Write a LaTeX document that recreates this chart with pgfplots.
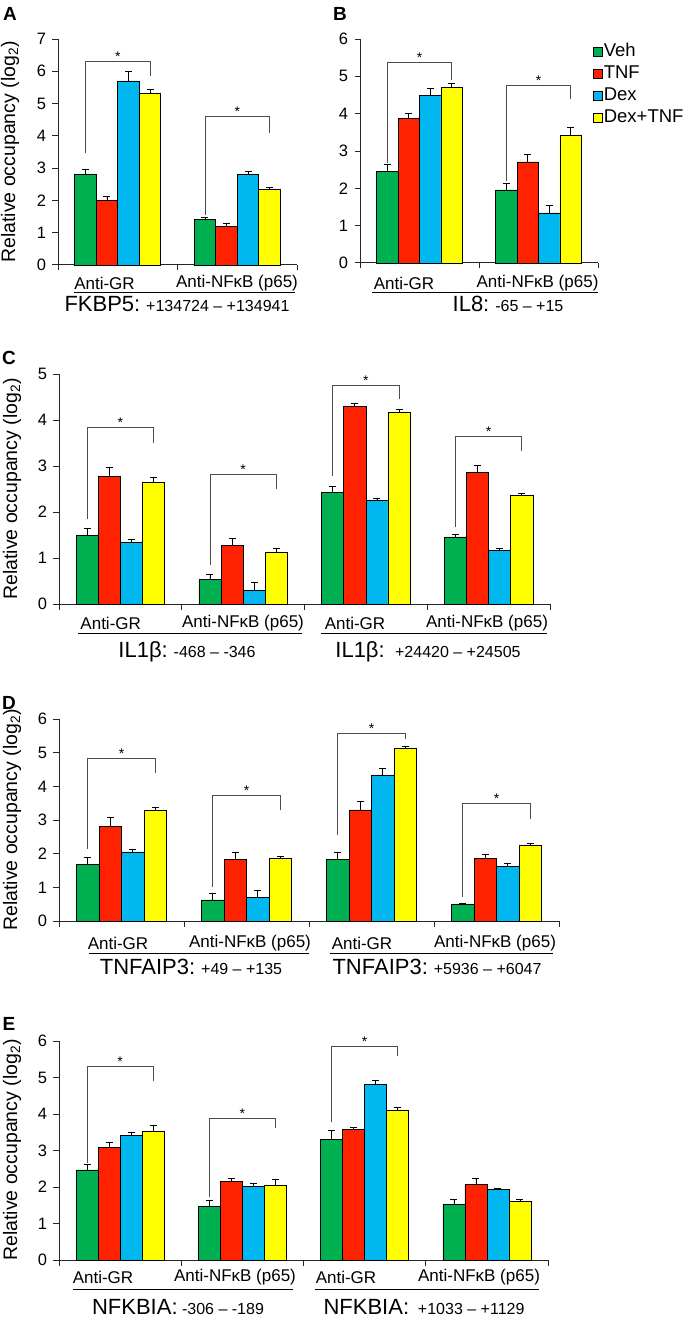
\documentclass[border=0pt]{standalone}
\usepackage{fontspec}
\setmainfont{Liberation Sans}
\usepackage{tikz}
\usepackage{pgfplots}
\pgfplotsset{compat=1.18}

\definecolor{cveh}{RGB}{0,176,80}
\definecolor{ctnf}{RGB}{255,34,0}
\definecolor{cdex}{RGB}{0,183,239}
\definecolor{cdt}{RGB}{255,255,0}

\newcommand{\fs}[1]{\fontsize{#1}{#1}\selectfont}
\tikzset{brk/.style={line width=0.8pt, black!70}}
% significance bracket: x left, x mid, x right, left foot, top, right foot
\newcommand{\sig}[6]{%
  \draw[brk] (axis cs:#1,#4) |- (axis cs:#3,#5) -- (axis cs:#3,#6);
  \node[font=\fs{14}, anchor=base, inner sep=0pt] at (axis cs:#2,#5) {*};}

\pgfplotsset{
  chip/.style={
    scale only axis, anchor=south west,
    xmin=0, ymin=0,
    axis x line*=bottom, axis y line*=left,
    axis line style={-, line width=1pt, black!85},
    ytick distance=1, xtick distance=1,
    xticklabels={},
    tick align=outside,
    major tick length=5.5pt,
    tick style={line width=1pt, black!85},
    yticklabel style={font=\fs{16.5}, xshift=-3pt},
    /pgf/number format/assume math mode=true,
    ybar=0pt, bar width=0.18,
    clip=false,
  },
  vb/.style={fill=#1, draw=black, line width=0.6pt,
    error bars/.cd, y dir=plus, y explicit,
    error bar style={line width=0.7pt, black},
    error mark options={rotate=90, mark size=3.5pt, line width=0.7pt, black}},
}

\begin{document}
\begin{tikzpicture}
\useasboundingbox (0pt,0pt) rectangle (693pt,-1321pt);

% ---------------- A: FKBP5
\begin{axis}[chip, at={(58pt,-265pt)}, width=239pt, height=226pt, xmax=2, ymax=7]
\addplot[vb=cveh] coordinates {(0.5,2.80) +- (0,0.17) (1.5,1.40) +- (0,0.07)};
\addplot[vb=ctnf] coordinates {(0.5,2.00) +- (0,0.13) (1.5,1.20) +- (0,0.10)};
\addplot[vb=cdex] coordinates {(0.5,5.70) +- (0,0.30) (1.5,2.81) +- (0,0.10)};
\addplot[vb=cdt]  coordinates {(0.5,5.31) +- (0,0.12) (1.5,2.34) +- (0,0.07)};
\sig{0.23}{0.5}{0.77}{3.46}{6.31}{5.84}
\sig{1.23}{1.5}{1.77}{1.55}{4.60}{4.10}
\end{axis}

% ---------------- B: IL8
\begin{axis}[chip, at={(360pt,-263pt)}, width=238pt, height=224pt, xmax=2, ymax=6,
  legend image code/.code={\draw[#1, draw=black, line width=0.6pt] (0pt,-4.5pt) rectangle (9pt,4.5pt);},
  legend style={at={(rel axis cs:0.979,0.985)}, anchor=north west, draw=none, fill=none,
    inner sep=0pt, row sep=4.5pt, font=\fs{18.5},
    nodes={inner sep=1pt, text height=13pt, text depth=2.5pt}},
  legend cell align=left]
\addplot[vb=cveh] coordinates {(0.5,2.46) +- (0,0.18) (1.5,1.96) +- (0,0.18)};
\addplot[vb=ctnf] coordinates {(0.5,3.88) +- (0,0.12) (1.5,2.71) +- (0,0.20)};
\addplot[vb=cdex] coordinates {(0.5,4.50) +- (0,0.19) (1.5,1.34) +- (0,0.21)};
\addplot[vb=cdt]  coordinates {(0.5,4.71) +- (0,0.11) (1.5,3.42) +- (0,0.21)};
\legend{Veh, TNF, Dex, Dex+TNF}
\sig{0.23}{0.5}{0.77}{2.68}{5.36}{4.91}
\sig{1.23}{1.5}{1.77}{2.19}{4.76}{4.39}
\end{axis}

% ---------------- C: IL1b
\begin{axis}[chip, at={(59pt,-604pt)}, width=491pt, height=230pt, xmax=4, ymax=5]
\addplot[vb=cveh] coordinates {(0.5,1.49) +- (0,0.15) (1.5,0.54) +- (0,0.10) (2.5,2.43) +- (0,0.13) (3.5,1.46) +- (0,0.05)};
\addplot[vb=ctnf] coordinates {(0.5,2.78) +- (0,0.18) (1.5,1.28) +- (0,0.14) (2.5,4.29) +- (0,0.08) (3.5,2.86) +- (0,0.15)};
\addplot[vb=cdex] coordinates {(0.5,1.34) +- (0,0.07) (1.5,0.29) +- (0,0.18) (2.5,2.25) +- (0,0.04) (3.5,1.17) +- (0,0.05)};
\addplot[vb=cdt]  coordinates {(0.5,2.64) +- (0,0.11) (1.5,1.12) +- (0,0.08) (2.5,4.17) +- (0,0.06) (3.5,2.36) +- (0,0.05)};
\sig{0.23}{0.5}{0.77}{1.85}{3.83}{3.51}
\sig{1.23}{1.5}{1.77}{0.85}{2.82}{2.49}
\sig{2.23}{2.5}{2.77}{2.79}{4.76}{4.46}
\sig{3.23}{3.5}{3.77}{1.68}{3.64}{3.33}
\end{axis}

% ---------------- D: TNFAIP3
\begin{axis}[chip, at={(59pt,-921pt)}, width=500pt, height=202pt, xmax=4, ymax=6]
\addplot[vb=cveh] coordinates {(0.5,1.67) +- (0,0.21) (1.5,0.63) +- (0,0.20) (2.5,1.83) +- (0,0.20) (3.5,0.49) +- (0,0.04)};
\addplot[vb=ctnf] coordinates {(0.5,2.80) +- (0,0.28) (1.5,1.84) +- (0,0.19) (2.5,3.30) +- (0,0.25) (3.5,1.85) +- (0,0.13)};
\addplot[vb=cdex] coordinates {(0.5,2.05) +- (0,0.09) (1.5,0.71) +- (0,0.21) (2.5,4.34) +- (0,0.20) (3.5,1.62) +- (0,0.08)};
\addplot[vb=cdt]  coordinates {(0.5,3.28) +- (0,0.09) (1.5,1.86) +- (0,0.05) (2.5,5.13) +- (0,0.06) (3.5,2.25) +- (0,0.07)};
\sig{0.23}{0.5}{0.77}{2.14}{4.82}{4.39}
\sig{1.23}{1.5}{1.77}{1.02}{3.74}{3.30}
\sig{2.23}{2.5}{2.77}{2.56}{5.57}{5.41}
\sig{3.23}{3.5}{3.77}{0.72}{3.48}{3.04}
\end{axis}

% ---------------- E: NFKBIA
\begin{axis}[chip, at={(59pt,-1260pt)}, width=489pt, height=219pt, xmax=4, ymax=6]
\addplot[vb=cveh] coordinates {(0.5,2.47) +- (0,0.15) (1.5,1.47) +- (0,0.17) (2.5,3.31) +- (0,0.24) (3.5,1.53) +- (0,0.12)};
\addplot[vb=ctnf] coordinates {(0.5,3.08) +- (0,0.14) (1.5,2.16) +- (0,0.08) (2.5,3.57) +- (0,0.06) (3.5,2.08) +- (0,0.16)};
\addplot[vb=cdex] coordinates {(0.5,3.42) +- (0,0.09) (1.5,2.02) +- (0,0.07) (2.5,4.81) +- (0,0.12) (3.5,1.93) +- (0,0.02)};
\addplot[vb=cdt]  coordinates {(0.5,3.54) +- (0,0.16) (1.5,2.05) +- (0,0.16) (2.5,4.10) +- (0,0.08) (3.5,1.61) +- (0,0.06)};
\sig{0.23}{0.5}{0.77}{2.67}{5.30}{4.90}
\sig{1.23}{1.5}{1.77}{1.74}{3.87}{3.63}
\sig{2.23}{2.5}{2.77}{3.79}{5.84}{5.59}
\end{axis}

% panel letters
\foreach \t/\x/\y in {A/10/14, B/340/14, C/9/358, D/9/703, E/9/1024}
  \node[font=\fs{19}\bfseries] at (\x pt,-\y pt) {\t};

% y axis titles
\foreach \x/\y in {10/152, 12/489, 12/820, 12/1150}
  \node[rotate=90, font=\fs{19.5}] at (\x pt,-\y pt) {Relative occupancy (log\textsubscript{2})};

% antibody labels
\foreach \x/\y/\t in {104.5/283/Anti-GR, 237/283/{Anti-NFκB (p65)},
    404/283/Anti-GR, 537.5/283/{Anti-NFκB (p65)},
    110.7/623/Anti-GR, 243/623/{Anti-NFκB (p65)}, 355/623/Anti-GR, 487/623/{Anti-NFκB (p65)},
    118/943/Anti-GR, 250/943/{Anti-NFκB (p65)}, 362/943/Anti-GR, 495/943/{Anti-NFκB (p65)},
    103/1277/Anti-GR, 235/1277/{Anti-NFκB (p65)}, 346/1277/Anti-GR, 479/1277/{Anti-NFκB (p65)}}
  \node[font=\fs{17}] at (\x pt,-\y pt) {\t};

% underlines
\foreach \a/\b/\y in {74/295/293, 372/598/293, 78/302/633, 321/547/633,
    89/309/953, 330/553/953, 73/293/1289, 315/539/1289}
  \draw[line width=1pt] (\a pt,-\y pt) -- (\b pt,-\y pt);

% gene / region labels
\node at (177pt,-304pt) {\fs{22}FKBP5:\fs{16} +134724 – +134941};
\node at (508pt,-304pt) {\fs{22}IL8:\fs{16} -65 – +15};
\node at (187pt,-652pt) {\fs{22}IL1β:\fs{16} -468 – -346};
\node at (428pt,-652pt) {\fs{22}IL1β:\fs{16} ~+24420 – +24505};
\node at (191pt,-967pt) {\fs{22}TNFAIP3:\fs{16} +49 – +135};
\node at (437pt,-967pt) {\fs{22}TNFAIP3:\fs{16} +5936 – +6047};
\node at (178pt,-1307pt) {\fs{22}NFKBIA:\fs{16} -306 – -189};
\node at (424pt,-1307pt) {\fs{22}NFKBIA:\fs{16} ~+1033 – +1129};
\end{tikzpicture}
\end{document}
